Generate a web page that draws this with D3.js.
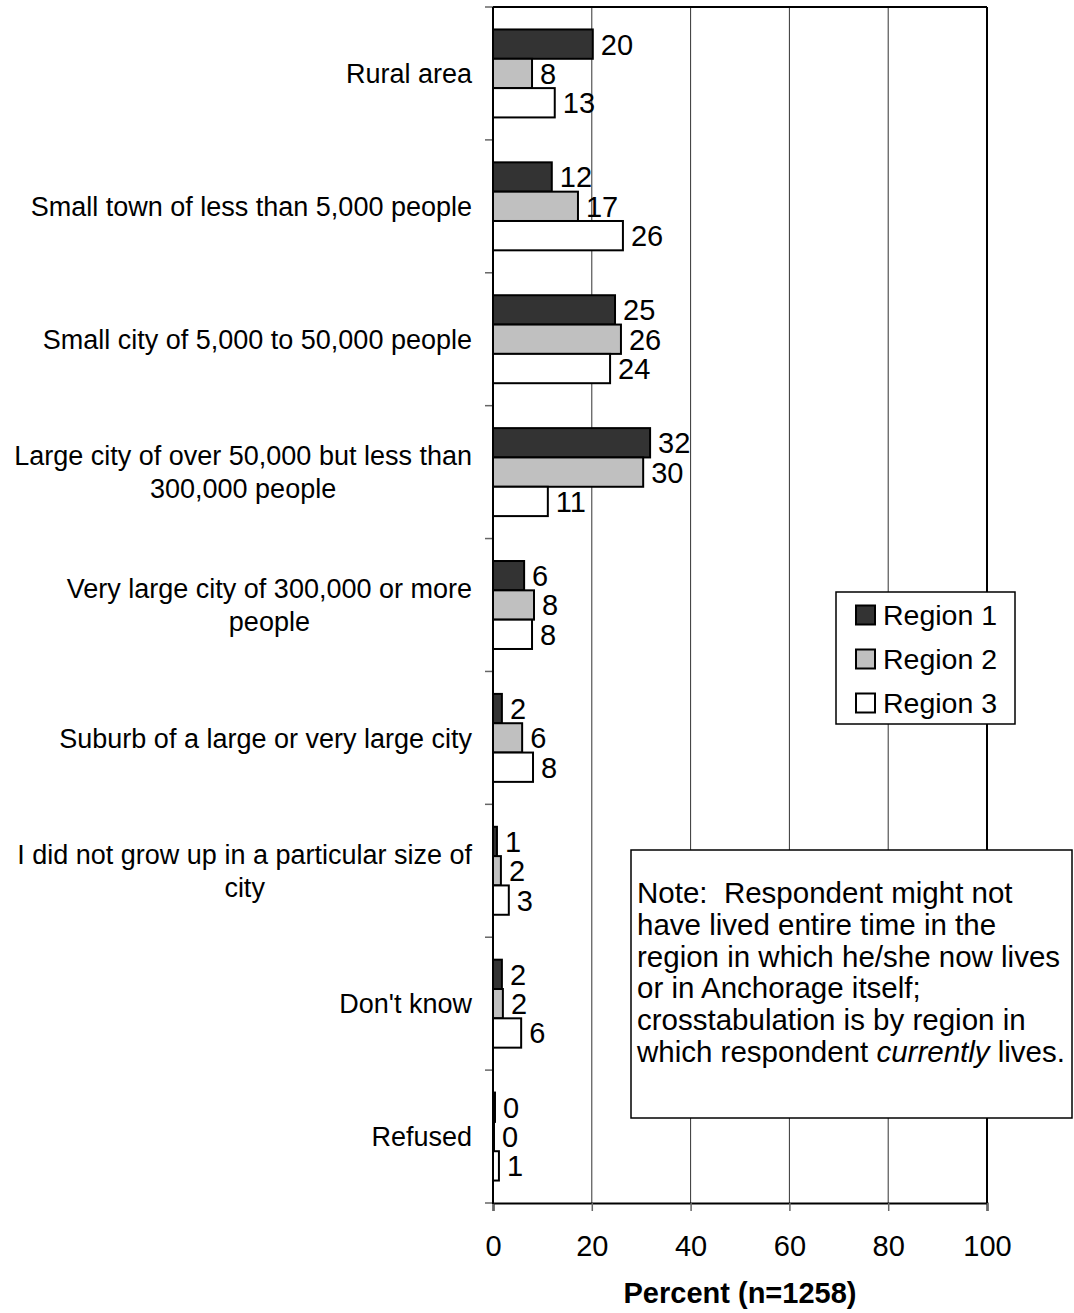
<!DOCTYPE html>
<html>
<head>
<meta charset="utf-8">
<script src="https://cdn.jsdelivr.net/npm/d3@7"></script>
<style>
  body { margin: 0; background: #fff; }
  svg { display: block; font-family: Arial, "Liberation Sans", sans-serif; }
</style>
</head>
<body>
<div id="chart"></div>
<script>
var w = 1074;
var h = 1313;

// categories (line breaks as in the picture)
var categories = [
  "Rural area",
  "Small town of less than 5,000 people",
  "Small city of 5,000 to 50,000 people",
  "Large city of over 50,000 but less than\n300,000 people",
  "Very large city of 300,000 or more\npeople",
  "Suburb of a large or very large city",
  "I did not grow up in a particular size of\ncity",
  "Don't know",
  "Refused"
];
var seriesNames = ["Region 1", "Region 2", "Region 3"];
var region1 = [20.2, 11.9, 24.7, 31.8, 6.3, 1.8, 0.8, 1.8, 0.4];
var region2 = [7.9, 17.2, 25.9, 30.4, 8.3, 5.9, 1.6, 2.0, 0.2];
var region3 = [12.5, 26.3, 23.7, 11.1, 7.9, 8.1, 3.2, 5.7, 1.2];
var xTicks = [0, 20, 40, 60, 80, 100];
var noteLines = [
  ["Note:  Respondent might not"],
  ["have lived entire time in the"],
  ["region in which he/she now lives"],
  ["or in Anchorage itself;"],
  ["crosstabulation is by region in"],
  ["which respondent ", "currently", " lives."]
];

var fills = ["#333333", "#c0c0c0", "#ffffff"];
var allSeries = [region1, region2, region3];

var svg = d3.select("#chart").append("svg")
    .attr("width", w)
    .attr("height", h);

var x = d3.scaleLinear().domain([0, 100]).range([493, 987]);
var y = d3.scaleBand().domain(d3.range(categories.length))
    .range([7, 1203]).paddingInner(0.338).paddingOuter(0.169);
var ySub = d3.scaleBand().domain(d3.range(3)).range([0, y.bandwidth()]);

// grid lines
svg.selectAll("line.grid")
    .data(xTicks.filter(function (d) { return d > 0 && d < 100; }))
    .enter().append("line")
    .attr("class", "grid")
    .attr("x1", function (d) { return x(d); })
    .attr("x2", function (d) { return x(d); })
    .attr("y1", 7).attr("y2", 1203)
    .attr("stroke", "#333").attr("stroke-width", 1);

// frame: top and right
svg.append("line").attr("x1", x(0)).attr("x2", x(100)).attr("y1", 7).attr("y2", 7)
    .attr("stroke", "#000").attr("stroke-width", 2);
svg.append("line").attr("x1", x(100)).attr("x2", x(100)).attr("y1", 7).attr("y2", 1203)
    .attr("stroke", "#000").attr("stroke-width", 2);

// left ticks at band boundaries
var boundaries = d3.range(categories.length + 1).map(function (i) { return 7 + i * y.step(); });
svg.selectAll("line.ltick").data(boundaries).enter().append("line")
    .attr("class", "ltick")
    .attr("x1", x(0) - 8).attr("x2", x(0))
    .attr("y1", function (d) { return d; }).attr("y2", function (d) { return d; })
    .attr("stroke", "#666").attr("stroke-width", 1.5);

// bottom axis
var xAxis = d3.axisBottom(x).tickValues(xTicks).tickSize(8).tickPadding(24);
var gx = svg.append("g").attr("transform", "translate(0,1203)").call(xAxis);
gx.select(".domain").attr("stroke", "#000").attr("stroke-width", 2);
gx.selectAll(".tick line").attr("stroke", "#666").attr("stroke-width", 1.5);
gx.selectAll(".tick text").attr("font-size", 29).attr("fill", "#000")
    .attr("font-family", "Arial, 'Liberation Sans', sans-serif");

// bars
var groups = svg.selectAll("g.cat").data(categories).enter().append("g")
    .attr("class", "cat")
    .attr("transform", function (d, i) { return "translate(0," + y(i) + ")"; });

groups.each(function (d, i) {
  var g = d3.select(this);
  allSeries.forEach(function (s, k) {
    g.append("rect")
      .attr("x", x(0))
      .attr("y", ySub(k))
      .attr("width", x(s[i]) - x(0))
      .attr("height", ySub.bandwidth())
      .attr("fill", fills[k])
      .attr("stroke", "#000")
      .attr("stroke-width", 2);
    g.append("text")
      .attr("x", x(s[i]) + 8)
      .attr("y", ySub(k) + ySub.bandwidth() / 2)
      .attr("dy", "0.36em")
      .attr("font-size", 29)
      .text(Math.round(s[i]));
  });
});

// left axis line
svg.append("line").attr("x1", x(0)).attr("x2", x(0)).attr("y1", 7).attr("y2", 1204)
    .attr("stroke", "#000").attr("stroke-width", 2);

// category labels, centered blocks with right edge at 472
var labelRight = 472;
var lineH = 33;
categories.forEach(function (c, i) {
  var lines = c.split("\n");
  var cy = y(i) + y.bandwidth() / 2;
  var t = svg.append("text").attr("font-size", 27).attr("text-anchor", "middle");
  var spans = lines.map(function (l, j) {
    return t.append("tspan")
      .attr("y", cy + (j - (lines.length - 1) / 2) * lineH)
      .attr("dy", "0.36em")
      .text(l);
  });
  var maxW = d3.max(spans, function (s) { return s.node().getComputedTextLength(); });
  spans.forEach(function (s) { s.attr("x", labelRight - maxW / 2); });
});

// axis title
svg.append("text")
    .attr("x", (x(0) + x(100)) / 2)
    .attr("y", 1293).attr("dy", "0.36em")
    .attr("text-anchor", "middle")
    .attr("font-size", 29).attr("font-weight", "bold")
    .text("Percent (n=1258)");

// legend
var leg = svg.append("g").attr("transform", "translate(836,592)");
leg.append("rect").attr("width", 179).attr("height", 132)
    .attr("fill", "#fff").attr("stroke", "#000").attr("stroke-width", 1.5);
seriesNames.forEach(function (n, k) {
  var cy = 23 + k * 44;
  leg.append("rect").attr("x", 20).attr("y", cy - 9.5).attr("width", 19).attr("height", 19)
    .attr("fill", fills[k]).attr("stroke", "#000").attr("stroke-width", 2);
  leg.append("text").attr("x", 47).attr("y", cy).attr("dy", "0.36em")
    .attr("font-size", 28.5).text(n);
});

// note box
var note = svg.append("g").attr("transform", "translate(631,850)");
note.append("rect").attr("width", 441).attr("height", 268)
    .attr("fill", "#fff").attr("stroke", "#000").attr("stroke-width", 1.5);
noteLines.forEach(function (parts, j) {
  var t = note.append("text").attr("x", 6).attr("y", 53 + j * 31.8).attr("font-size", 29.5);
  parts.forEach(function (p, k) {
    t.append("tspan").attr("font-style", k === 1 ? "italic" : null)
      .attr("xml:space", "preserve").text(p);
  });
});
</script>
</body>
</html>
